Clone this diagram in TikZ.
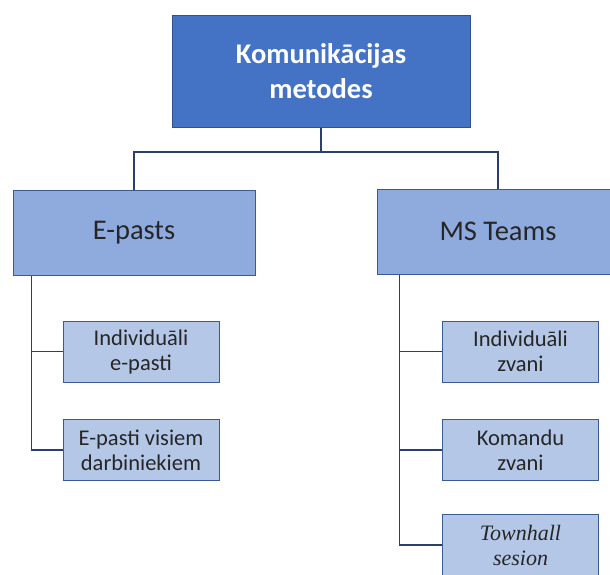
\documentclass[tikz,border=0pt]{standalone}
\usepackage{fontspec}
\setmainfont{Carlito}
\newfontfamily\serifit{Liberation Serif}
\begin{document}
\begin{tikzpicture}[x=1pt,y=-1pt,
  topbox/.style={draw=topedge,fill=topfill,line width=1pt,minimum width=298pt,minimum height=112pt,align=center,text=white,font=\fontsize{28.5}{35}\selectfont\bfseries},
  midbox/.style={draw=boxedge,fill=midfill,line width=1pt,minimum width=242pt,minimum height=85pt,align=center,text=txtcol,font=\fontsize{28.5}{32}\selectfont},
  leafbox/.style={draw=boxedge,fill=leaffill,line width=1pt,minimum width=156pt,minimum height=61pt,align=center,inner sep=1pt,text=txtcol,font=\fontsize{22.5}{25}\selectfont},
  conn/.style={draw=linecol,line width=1.3pt}]
\definecolor{topfill}{HTML}{4472C4}
\definecolor{topedge}{HTML}{2F528F}
\definecolor{midfill}{HTML}{8FAADC}
\definecolor{leaffill}{HTML}{B4C7E7}
\definecolor{boxedge}{HTML}{3A5A94}
\definecolor{linecol}{HTML}{2B3F6C}
\definecolor{txtcol}{HTML}{262626}
\useasboundingbox (0,0) rectangle (610,574);
\clip (0,0) rectangle (610,574);
\node[topbox] (top) at (321,71) {Komunikācijas\\metodes};
\node[midbox] (ep) at (134,232.5) {E-pasts};
\node[midbox] (ms) at (498,231.5) {MS Teams};
\node[leafbox] (l1) at (141,351.5) {Individuāli\\e-pasti};
\node[leafbox] (l2) at (141,450) {E-pasti visiem\\darbiniekiem};
\node[leafbox] (r1) at (520.5,351.5) {Individuāli\\zvani};
\node[leafbox] (r2) at (520.5,450) {Komandu\\zvani};
\node[leafbox,font=\fontsize{22}{25}\selectfont\serifit\itshape] (r3) at (520.5,545) {Townhall\\sesion};
\coordinate (jn) at (321,152);
\draw[conn] (top.south) -- (jn);
\draw[conn] (jn) -| (ep.north);
\draw[conn] (jn) -| (ms.north);
\draw[conn] ([xshift=19pt]ep.south west) |- (l1.west);
\draw[conn] ([xshift=19pt]ep.south west) |- (l2.west);
\draw[conn] ([xshift=23pt]ms.south west) |- (r1.west);
\draw[conn] ([xshift=23pt]ms.south west) |- (r2.west);
\draw[conn] ([xshift=23pt]ms.south west) |- (r3.west);
\end{tikzpicture}
\end{document}
